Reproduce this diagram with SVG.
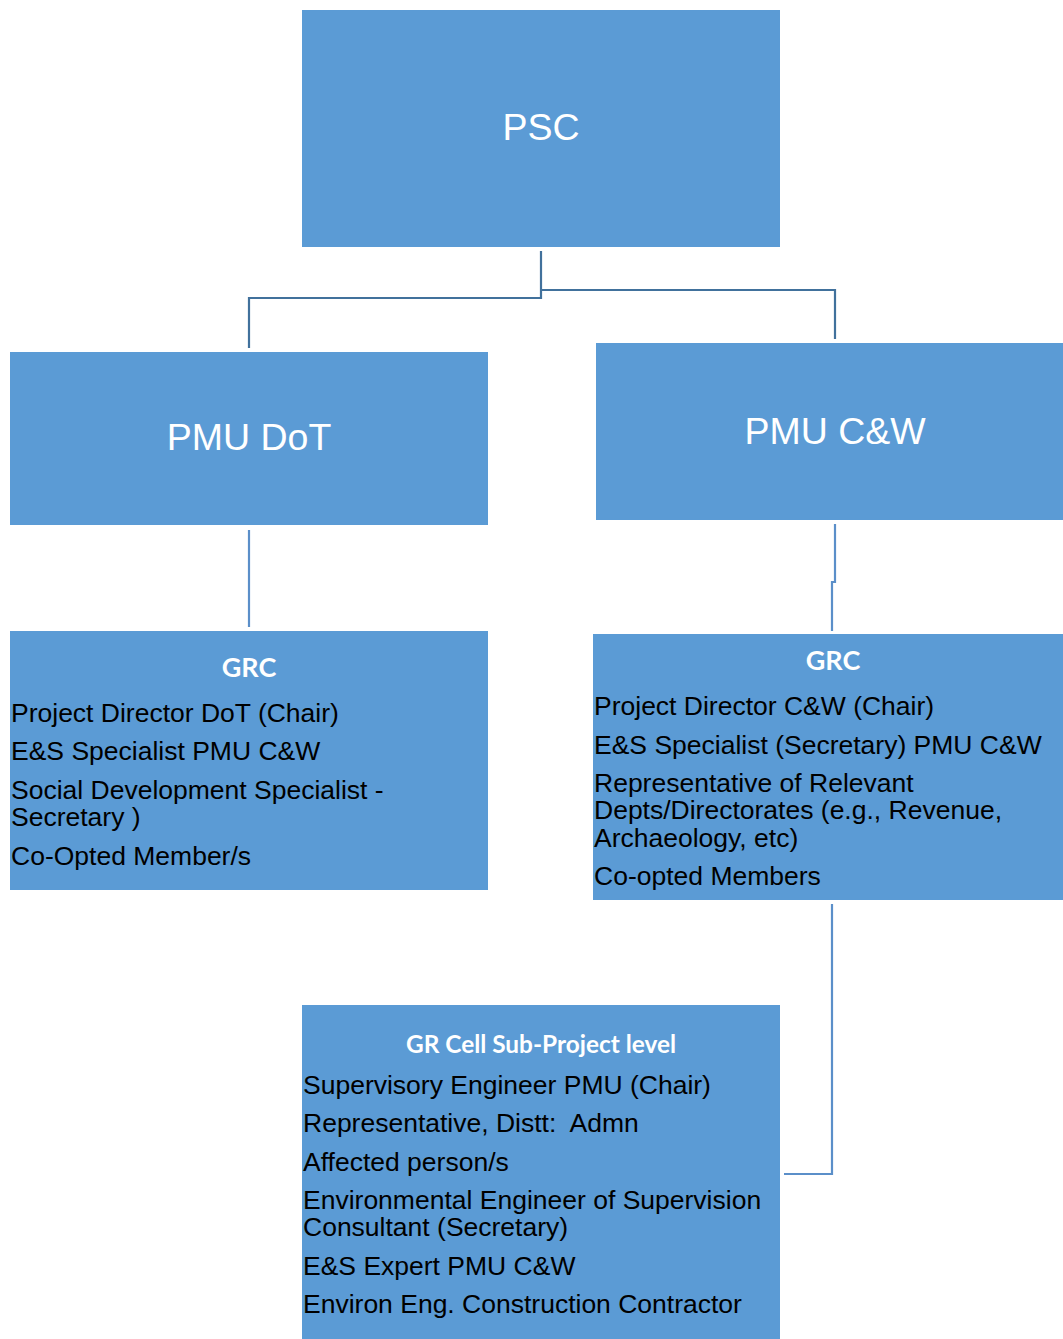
<svg xmlns="http://www.w3.org/2000/svg" width="1063" height="1339" viewBox="0 0 1063 1339">
<style>
.box{fill:#5B9BD5;}
.title{font-family:"Liberation Sans",Arial,sans-serif;font-size:37.5px;fill:#FFFFFF;text-anchor:middle;}
.head{font-family:Lato,"Open Sans",sans-serif;font-weight:bold;font-size:27px;fill:#FFFFFF;text-anchor:middle;}
.head2{font-family:Lato,"Open Sans",sans-serif;font-weight:bold;font-size:24.4px;fill:#FFFFFF;text-anchor:middle;}
.body{font-family:"Liberation Sans",Arial,sans-serif;font-size:26.5px;fill:#000000;}
.c1{fill:none;stroke:#41719C;stroke-width:2.2;}
.c2{fill:none;stroke:#5B8FC9;stroke-width:2.2;}
</style>
<rect width="1063" height="1339" fill="#FFFFFF"/>
<g id="connectors">
<polyline class="c1" points="541,251 541,298 249,298 249,348"/>
<polyline class="c1" points="541,290 835,290 835,339"/>
<polyline class="c2" points="249,530 249,627"/>
<polyline class="c2" points="835,524 835,582 832,582 832,631"/>
<polyline class="c2" points="832,904 832,1174 784,1174"/>
</g>
<g id="psc">
<rect class="box" x="302" y="10" width="478" height="237"/>
<text class="title" x="541" y="140">PSC</text>
</g>
<g id="pmu-dot">
<rect class="box" x="10" y="352" width="478" height="173"/>
<text class="title" x="249" y="450">PMU DoT</text>
</g>
<g id="pmu-cw">
<rect class="box" x="596" y="343" width="467" height="177"/>
<text class="title" x="835" y="444">PMU C&amp;W</text>
</g>
<g id="grc-left">
<rect class="box" x="10" y="631" width="478" height="259"/>
<text class="head" x="249" y="677">GRC</text>
<text class="body" x="11" y="722">Project Director DoT (Chair)</text>
<text class="body" x="11" y="760">E&amp;S Specialist PMU C&amp;W</text>
<text class="body" x="11" y="799">Social Development Specialist -</text>
<text class="body" x="11" y="826">Secretary )</text>
<text class="body" x="11" y="865">Co-Opted Member/s</text>
</g>
<g id="grc-right">
<rect class="box" x="593" y="634" width="470" height="266"/>
<text class="head" x="833" y="670">GRC</text>
<text class="body" x="594" y="715">Project Director C&amp;W (Chair)</text>
<text class="body" x="594" y="754">E&amp;S Specialist (Secretary) PMU C&amp;W</text>
<text class="body" x="594" y="792">Representative of Relevant</text>
<text class="body" x="594" y="819">Depts/Directorates (e.g., Revenue,</text>
<text class="body" x="594" y="847">Archaeology, etc)</text>
<text class="body" x="594" y="885">Co-opted Members</text>
</g>
<g id="gr-cell">
<rect class="box" x="302" y="1005" width="478" height="334"/>
<text class="head2" x="541" y="1053">GR Cell Sub-Project level</text>
<text class="body" x="303" y="1094">Supervisory Engineer PMU (Chair)</text>
<text class="body" x="303" y="1132">Representative, Distt:&#160; Admn</text>
<text class="body" x="303" y="1171">Affected person/s</text>
<text class="body" x="303" y="1209">Environmental Engineer of Supervision</text>
<text class="body" x="303" y="1236">Consultant (Secretary)</text>
<text class="body" x="303" y="1275">E&amp;S Expert PMU C&amp;W</text>
<text class="body" x="303" y="1313">Environ Eng. Construction Contractor</text>
</g>
</svg>
